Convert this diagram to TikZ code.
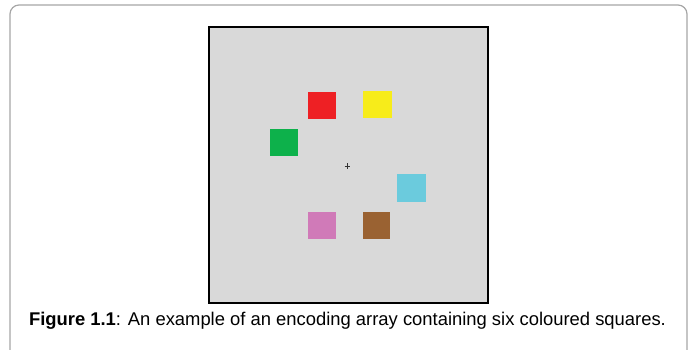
\documentclass[tikz,border=0pt]{standalone}
\usepackage{fontspec}
\setmainfont{Liberation Sans}
\definecolor{panelgray}{HTML}{D9D9D9}
\definecolor{framegray}{HTML}{A6A6A6}
\definecolor{sqred}{HTML}{EE2024}
\definecolor{sqyellow}{HTML}{F7EC1A}
\definecolor{sqgreen}{HTML}{0DB14B}
\definecolor{sqcyan}{HTML}{6BCBDD}
\definecolor{sqpink}{HTML}{D07AB8}
\definecolor{sqbrown}{HTML}{9A6232}
\begin{document}
\begin{tikzpicture}[x=1pt,y=-1pt]
\useasboundingbox (0,0) rectangle (694,349);
\clip (0,0) rectangle (694,349);
% outer frame
\draw[framegray, line width=1.2pt, rounded corners=9pt] (10,5) rectangle (687,380);
% stimulus panel
\draw[black, line width=2pt, fill=panelgray] (208.5,26.5) rectangle (488,302.5);
% squares
\fill[sqred] (307.5,92) rectangle (335.5,119);
\fill[sqyellow] (362.5,90.5) rectangle (391.5,118);
\fill[sqgreen] (270,128.5) rectangle (297.5,155.5);
\fill[sqcyan] (397,173.5) rectangle (425.5,201.5);
\fill[sqpink] (307.5,212) rectangle (335.5,239);
\fill[sqbrown] (362.5,212) rectangle (390,239);
% fixation cross
\draw[black!80, line width=0.6pt] (344.5,166) -- (350,166) (347.3,163.3) -- (347.3,168.7);
% caption
\node[anchor=base, font=\fontsize{18.4}{21}\selectfont, inner sep=0pt] (cap) at (347.5,325.5)
  {\textbf{Figure 1.1}: An example of an encoding array containing six coloured squares.};
\end{tikzpicture}
\end{document}
